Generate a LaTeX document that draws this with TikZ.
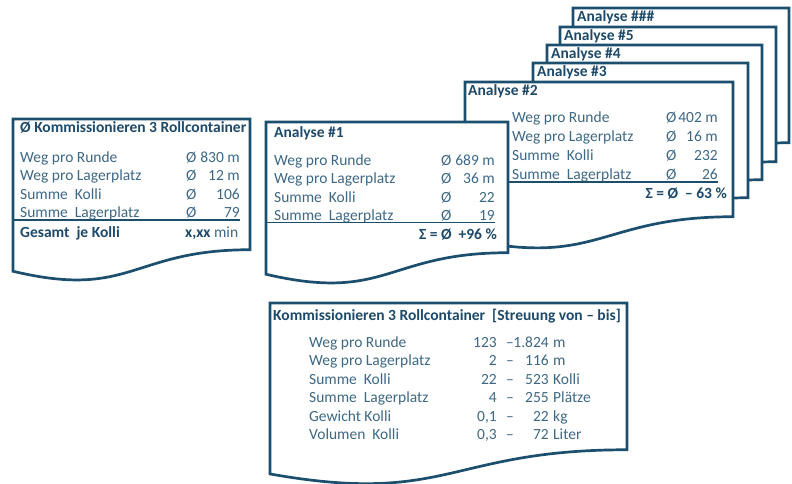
\documentclass[tikz,border=0pt]{standalone}
\usepackage{fontspec}
\setmainfont{Carlito}
\usepackage{tikz}
\definecolor{framecol}{HTML}{1C4E6E}
\definecolor{boldcol}{HTML}{1D4A6A}
\definecolor{textcol}{HTML}{3D6886}
\tikzset{sheet/.style = {draw=framecol, line width=2.7, fill=white, line join=miter}}
\tikzset{lbl/.style = {text=textcol, inner sep=0, anchor=base west,
                       font=\fontsize{15.5}{18}\selectfont}}
\tikzset{num/.style = {lbl, anchor=base east}}
\tikzset{ttl/.style = {lbl, text=boldcol, font=\fontsize{15.5}{18}\selectfont\bfseries}}
\tikzset{sumline/.style = {draw=framecol, line width=1.3}}

% sheet with wavy bottom: left, top, width, height
\newcommand{\docsheet}[4]{%
  \draw [sheet] (#1, #2) -- ({#1+#3}, #2) -- ({#1+#3}, {#2+0.802*#4})
    .. controls ({#1+0.5*#3}, {#2+0.802*#4}) and ({#1+0.5*#3}, {#2+1.1075*#4})
    .. (#1, {#2+0.934*#4}) -- cycle;
}

\begin{document}
\begin{tikzpicture}[x=1pt, y=-1pt]
      \useasboundingbox (0, 0) rectangle (792, 483);

      % stack of analyses behind
      \foreach \nm/\lx/\ty/\w in {\#\#\#/573/8/216, \#5/560/27/216, \#4/547/45/215, \#3/533/63/215} {
        \docsheet{\lx}{\ty}{\w}{168}
        \node [ttl] (an-\lx) at (\lx+4, \ty+13) {Analyse \nm};
      }

      % Analyse #2
      \docsheet{465}{82}{268}{168}
      \node [ttl] (a2-title) at (468, 95) {Analyse \#2};
      \foreach \txt/\val [count=\i] in {Weg pro Runde/402 m, Weg pro Lagerplatz/16 m,
                                        Summe~ Kolli/232, Summe~ Lagerplatz/26} {
        \node [lbl] (a2-l\i) at (512, {104+18.9*\i}) {\txt};
        \node [lbl] (a2-o\i) at (666, {104+18.9*\i}) {Ø};
        \node [num] (a2-v\i) at (718, {104+18.9*\i}) {\val};
      }
      \draw [sumline] (465, 182) -- (718, 182);
      \node [ttl, anchor=base east] (a2-sum) at (727, 198) {Σ = Ø~ – 63 \%};

      % Analyse #1
      \docsheet{266}{122}{242}{163}
      \node [ttl] (a1-title) at (274, 137) {Analyse \#1};
      \foreach \txt/\val [count=\i] in {Weg pro Runde/689 m, Weg pro Lagerplatz/36 m,
                                        Summe~ Kolli/22, Summe~ Lagerplatz/19} {
        \node [lbl] (a1-l\i) at (274, {146.5+18.5*\i}) {\txt};
        \node [lbl] (a1-o\i) at (441, {146.5+18.5*\i}) {Ø};
        \node [num] (a1-v\i) at (495, {146.5+18.5*\i}) {\val};
      }
      \draw [sumline] (266, 222.5) -- (495, 222.5);
      \node [ttl, anchor=base east] (a1-sum) at (497, 239) {Σ = Ø~ +96 \%};

      % average of all rounds
      \docsheet{13}{119}{237}{163}
      \node [ttl] (avg-title) at (20, 132) {Ø Kommissionieren 3 Rollcontainer};
      \foreach \txt/\val [count=\i] in {Weg pro Runde/830 m, Weg pro Lagerplatz/12 m,
                                        Summe~ Kolli/106, Summe~ Lagerplatz/79} {
        \node [lbl] (avg-l\i) at (20, {143.5+18.5*\i}) {\txt};
        \node [lbl] (avg-o\i) at (186, {143.5+18.5*\i}) {Ø};
        \node [num] (avg-v\i) at (240, {143.5+18.5*\i}) {\val};
      }
      \draw [sumline] (13, 220) -- (240, 220);
      \node [ttl] (avg-total) at (20, 237) {Gesamt~~je Kolli};
      \node [lbl] (avg-time) at (185, 237) {\textcolor{boldcol}{\bfseries x,xx} min};

      % spread from - to
      \docsheet{270}{303}{357}{183}
      \node [ttl] (sp-title) at (273, 320) {Kommissionieren 3 Rollcontainer~ [Streuung von – bis]};
      \foreach \txt/\lo/\hi/\unit [count=\i] in {Weg pro Runde/123/1.824/m,
                                                 Weg pro Lagerplatz/2/116/m,
                                                 Summe~ Kolli/22/523/Kolli,
                                                 Summe~ Lagerplatz/4/255/Plätze,
                                                 Gewicht Kolli/{0,1}/22/kg,
                                                 Volumen~ Kolli/{0,3}/72/Liter} {
        \node [lbl] (sp-l\i) at (309, {328.5+18.5*\i}) {\txt};
        \node [num] (sp-lo\i) at (497, {328.5+18.5*\i}) {\lo};
        \node [lbl] (sp-d\i) at (506, {328.5+18.5*\i}) {–};
        \node [num] (sp-hi\i) at (549, {328.5+18.5*\i}) {\hi};
        \node [lbl] (sp-u\i) at (553, {328.5+18.5*\i}) {\unit};
      }

    \end{tikzpicture}
\end{document}
